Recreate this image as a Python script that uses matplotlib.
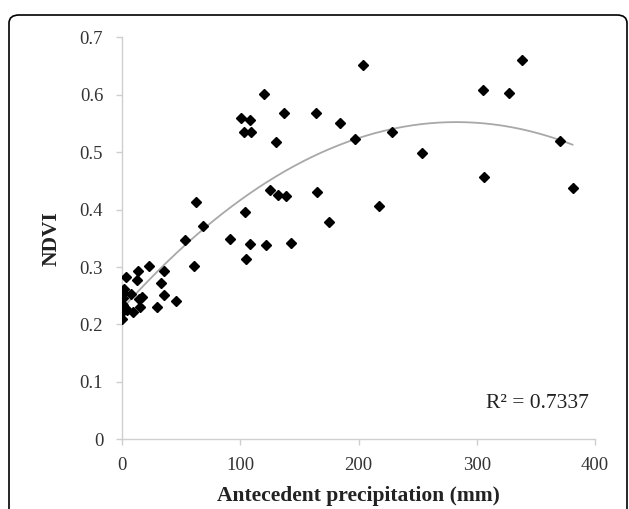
import numpy as np
import matplotlib
matplotlib.use("Agg")
import matplotlib.pyplot as plt
from matplotlib.patches import FancyBboxPatch

precip = [338, 305, 327, 228, 254, 370, 306, 381, 217, 204,
          120, 100.5, 108.5, 103, 109, 137, 164, 184, 130, 197,
          125.5, 132, 138.5, 164.5, 175, 104, 68.5, 91.5, 108.5, 122,
          143, 105, 63, 53, 61, 22.5, 35.5, 13.3, 3.7, 12.5,
          33, 2.0, 0.6, 7.7, 35.5, 0.9, 17, 14.2, 0.3, 45.8,
          1.2, 15.2, 29.7, 2.3, 4.6, 9.1, 0.3, 0.0]
ndvi = [0.661, 0.608, 0.603, 0.535, 0.498, 0.519, 0.457, 0.438, 0.406, 0.652,
        0.601, 0.559, 0.556, 0.535, 0.535, 0.568, 0.568, 0.551, 0.517, 0.523,
        0.434, 0.425, 0.423, 0.430, 0.378, 0.396, 0.371, 0.348, 0.340, 0.338,
        0.341, 0.314, 0.413, 0.347, 0.301, 0.301, 0.293, 0.293, 0.282, 0.277,
        0.272, 0.261, 0.254, 0.253, 0.252, 0.246, 0.248, 0.245, 0.236, 0.241,
        0.234, 0.231, 0.231, 0.229, 0.225, 0.222, 0.222, 0.209]
x_ticks = [0, 100, 200, 300, 400]
y_ticks = [0, 0.1, 0.2, 0.3, 0.4, 0.5, 0.6, 0.7]
r2_label = "R\u00b2 = 0.7337"

plt.rcParams['font.family'] = ['Liberation Serif', 'DejaVu Serif']

W, H = 629, 509
fig = plt.figure(figsize=(W / 100, H / 100), dpi=100)

# rounded frame
frame = FancyBboxPatch((9 / W, -30 / H), (627 - 9) / W, (494 + 30) / H,
                       boxstyle="round,pad=0,rounding_size=0.016",
                       transform=fig.transFigure, fill=False,
                       edgecolor='black', linewidth=1.2, clip_on=False)
fig.patches.append(frame)

ax = fig.add_axes([122 / W, 1 - 439.3 / H, (595 - 122) / W, (439.3 - 37.3) / H])
ax.set_xlim(0, 400)
ax.set_ylim(0, 0.7)

x = np.array(precip)
y = np.array(ndvi)
coef = np.polyfit(x, y, 2)
xs = np.linspace(x.min(), x.max(), 200)
ax.plot(xs, np.polyval(coef, xs), color='#a8a8a8', linewidth=1.3, zorder=2)
ax.plot(x, y, linestyle='none', marker='D', markersize=4.6,
        color='black', zorder=3)

ax.set_xticks(x_ticks)
ax.set_yticks(y_ticks)
ax.set_xticklabels([str(t) for t in x_ticks])
ax.set_yticklabels(['0' if t == 0 else f'{t:.1f}' for t in y_ticks])
for side in ['top', 'right']:
    ax.spines[side].set_visible(False)
for side in ['left', 'bottom']:
    ax.spines[side].set_color('#cfcfcf')
    ax.spines[side].set_linewidth(1.0)
ax.tick_params(axis='both', colors='#cfcfcf', labelcolor='#333333',
               labelsize=13.5, length=4.5, width=1.0, direction='out')
ax.tick_params(axis='y', pad=9)
ax.tick_params(axis='x', pad=8)

ax.set_xlabel('Antecedent precipitation (mm)', fontsize=15.5,
              fontweight='bold', color='#222222', labelpad=9)
ax.set_ylabel('NDVI', fontsize=15.5, fontweight='bold', color='#222222',
              labelpad=13)

ax.text(351, 0.063, r2_label, fontsize=15.5, color='#222222',
        ha='center', va='center')

fig.savefig('out.png', dpi=100)
